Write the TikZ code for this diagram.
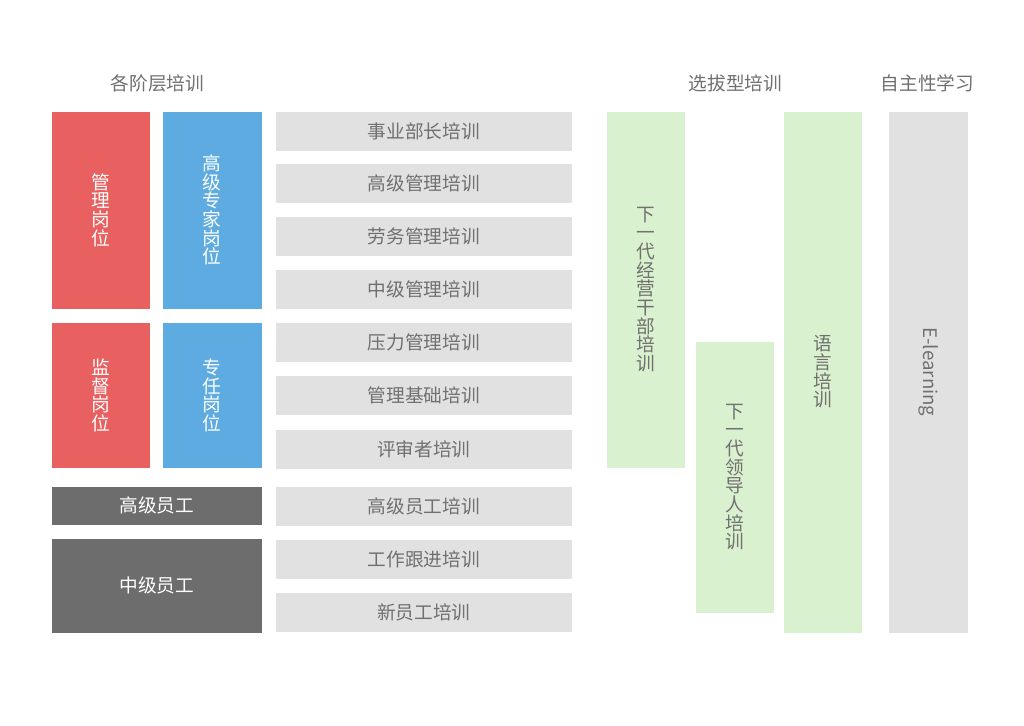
\documentclass[tikz,border=0pt]{standalone}
\usepackage{fontspec}
\newfontfamily\cjk{Noto Sans CJK SC}
\definecolor{redc}{HTML}{E8605F}
\definecolor{bluec}{HTML}{5DABE0}
\definecolor{darkc}{HTML}{6D6D6D}
\definecolor{lightc}{HTML}{E1E1E1}
\definecolor{greenc}{HTML}{DAF1CF}
\definecolor{txtc}{HTML}{707070}
\begin{document}
\begin{tikzpicture}[x=0.75pt,y=-0.75pt,
  sz/.style 2 args={minimum width=#1*0.75pt, minimum height=#2*0.75pt},
  base/.style={inner sep=0pt, outer sep=0pt, draw=none, align=center},
  vfont/.style={font=\cjk\fontsize{14pt}{14pt}\selectfont},
  hfont/.style={font=\cjk\fontsize{14pt}{16pt}\selectfont},
  redbox/.style={base, fill=redc, text=white, vfont},
  bluebox/.style={base, fill=bluec, text=white, vfont},
  darkbox/.style={base, fill=darkc, text=white, hfont},
  graybar/.style={base, fill=lightc, text=txtc, hfont, sz={295.5}{39}},
  greenbox/.style={base, fill=greenc, text=txtc, vfont, sz={78}{#1}},
  header/.style={base, text=txtc, font=\cjk\fontsize{14pt}{16pt}\selectfont}]
\useasboundingbox[fill=white] (0,0) rectangle (1024,725);
% headers
\node[header] (h1) at (157.5,83) {各阶层培训};
\node[header] (h2) at (735.5,83) {选拔型培训};
\node[header] (h3) at (927.5,83) {自主性学习};
% left position boxes
\node[redbox, sz={98}{197}] (r1) at (101,210) {管\\理\\岗\\位};
\node[bluebox, sz={98.5}{197}] (b1) at (212.25,210) {高\\级\\专\\家\\岗\\位};
\node[redbox, sz={98}{145}] (r2) at (101,395.5) {监\\督\\岗\\位};
\node[bluebox, sz={98.5}{145}] (b2) at (212.25,395.5) {专\\任\\岗\\位};
\node[darkbox, sz={209.5}{38.5}] (d1) at (156.75,505.75) {高级员工};
\node[darkbox, sz={209.5}{93.5}] (d2) at (156.75,585.75) {中级员工};
% gray bars
\node[graybar] (g1) at (423.75,131) {事业部长培训};
\node[graybar] (g2) at (423.75,183.5) {高级管理培训};
\node[graybar] (g3) at (423.75,236.5) {劳务管理培训};
\node[graybar] (g4) at (423.75,289.5) {中级管理培训};
\node[graybar] (g5) at (423.75,342.5) {压力管理培训};
\node[graybar] (g6) at (423.75,395.5) {管理基础培训};
\node[graybar] (g7) at (423.75,449) {评审者培训};
\node[graybar] (g8) at (423.75,506) {高级员工培训};
\node[graybar] (g9) at (423.75,559.5) {工作跟进培训};
\node[graybar] (g10) at (423.75,612.5) {新员工培训};
% selection training
\node[greenbox=356] (s1) at (645.5,289.5) {下\\一\\代\\经\\营\\干\\部\\培\\训};
\node[greenbox=271] (s2) at (734.5,477) {下\\一\\代\\领\\导\\人\\培\\训};
\node[greenbox=521] (s3) at (823,372) {语\\言\\培\\训};
% self learning
\node[base, fill=lightc, sz={78.5}{521}] (e1) at (928.25,372) {};
\node[base, text=txtc, hfont, rotate=-90] (e1t) at (e1.center) {E-learning};
\end{tikzpicture}
\end{document}
